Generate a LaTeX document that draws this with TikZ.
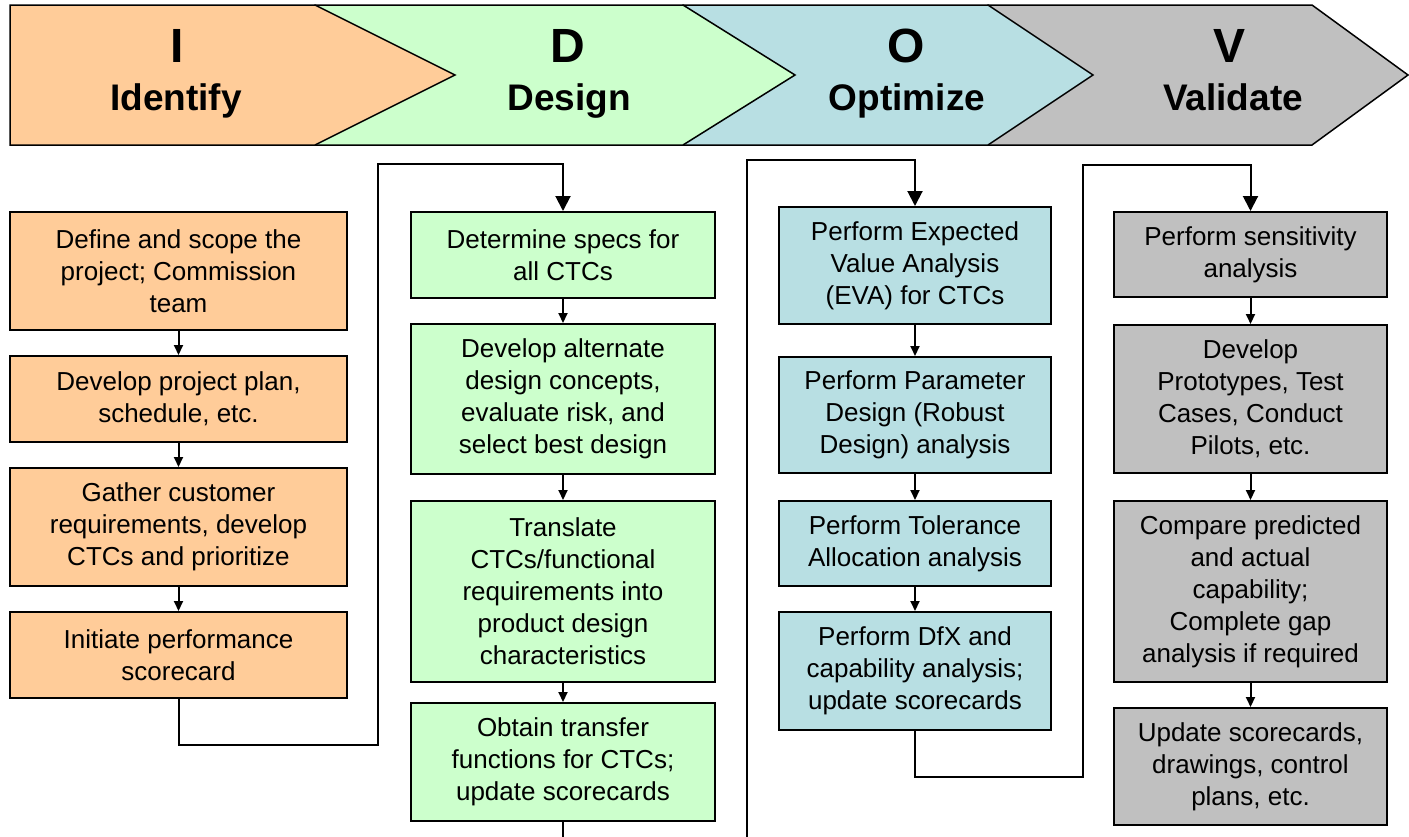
\documentclass[tikz,border=0pt]{standalone}
\usepackage{fontspec}
\setmainfont{Liberation Sans}
\usetikzlibrary{arrows.meta}
\definecolor{cI}{HTML}{FFCC99}
\definecolor{cD}{HTML}{CCFFCC}
\definecolor{cO}{HTML}{B8DFE3}
\definecolor{cV}{HTML}{C0C0C0}
\begin{document}
\begin{tikzpicture}[x=1pt,y=-1pt,
  box/.style={draw=black, line width=2pt, align=center, inner sep=0pt, font=\fontsize{26}{32}\selectfont},
  colI/.style={box, fill=cI, minimum width=337pt},
  colD/.style={box, fill=cD, minimum width=304pt},
  colO/.style={box, fill=cO, minimum width=272pt},
  colV/.style={box, fill=cV, minimum width=273pt},
  chev/.style={draw=black, line width=1.5pt, line join=miter},
  letter/.style={anchor=base, font=\fontsize{48}{48}\selectfont\bfseries, inner sep=0pt},
  phase/.style={anchor=base, font=\fontsize{37}{37}\selectfont\bfseries, inner sep=0pt},
  link/.style={line width=2pt, -{Triangle[width=9pt,length=10pt]}},
  feed/.style={line width=2pt, -{Triangle[width=15pt,length=15pt]}}]
\useasboundingbox (0,0) rectangle (1409,836);
\clip (0,0) rectangle (1409,836);
\fill[white] (0,0) rectangle (1409,836);

% header chevrons
\path[chev, fill=cV] (988,5) -- (1312,5) -- (1408,75) -- (1312,145) -- (988,145) -- cycle;
\path[chev, fill=cO] (683,5) -- (988,5) -- (1093,75) -- (988,145) -- (683,145) -- cycle;
\path[chev, fill=cD] (315,5) -- (683,5) -- (795,75) -- (683,145) -- (315,145) -- cycle;
\path[chev, fill=cI] (10,5) -- (315,5) -- (455,75) -- (315,145) -- (10,145) -- cycle;

\node[letter] (hI) at (177,62) {I};
\node[phase] (nI) at (176,110) {Identify};
\node[letter] (hD) at (568,62) {D};
\node[phase] (nD) at (569,110) {Design};
\node[letter] (hO) at (906,62) {O};
\node[phase] (nO) at (907,110) {Optimize};
\node[letter] (hV) at (1229,62) {V};
\node[phase] (nV) at (1233,110) {Validate};

% Identify column
\node[colI, minimum height=118pt] (i1) at (178.5,271) {Define and scope the\\project; Commission\\team};
\node[colI, minimum height=86pt] (i2) at (178.5,399) {Develop project plan,\\schedule, etc.};
\node[colI, minimum height=118pt] (i3) at (178.5,527) {Gather customer\\requirements, develop\\CTCs and prioritize};
\node[colI, minimum height=86pt] (i4) at (178.5,655) {Initiate performance\\scorecard};

% Design column
\node[colD, minimum height=86pt] (d1) at (563,255) {Determine specs for\\all CTCs};
\node[colD, minimum height=150pt] (d2) at (563,399) {Develop alternate\\design concepts,\\evaluate risk, and\\select best design};
\node[colD, minimum height=181pt] (d3) at (563,591.5) {Translate\\CTCs/functional\\requirements into\\product design\\characteristics};
\node[colD, minimum height=118pt] (d4) at (563,762) {Obtain transfer\\functions for CTCs;\\update scorecards};

% Optimize column
\node[colO, minimum height=117pt] (o1) at (915,265.5) {Perform Expected\\Value Analysis\\(EVA) for CTCs};
\node[colO, minimum height=116pt] (o2) at (915,415) {Perform Parameter\\Design (Robust\\Design) analysis};
\node[colO, minimum height=85pt] (o3) at (915,543.5) {Perform Tolerance\\Allocation analysis};
\node[colO, minimum height=118pt] (o4) at (915,671) {Perform DfX and\\capability analysis;\\update scorecards};

% Validate column
\node[colV, minimum height=85pt] (v1) at (1250.5,254.5) {Perform sensitivity\\analysis};
\node[colV, minimum height=148pt] (v2) at (1250.5,399) {Develop\\Prototypes, Test\\Cases, Conduct\\Pilots, etc.};
\node[colV, minimum height=181pt] (v3) at (1250.5,591.5) {Compare predicted\\and actual\\capability;\\Complete gap\\analysis if required};
\node[colV, minimum height=117pt] (v4) at (1250.5,766.5) {Update scorecards,\\drawings, control\\plans, etc.};

% links within columns
\draw[link] (i1) -- (i2);
\draw[link] (i2) -- (i3);
\draw[link] (i3) -- (i4);
\draw[link] (d1) -- (d2);
\draw[link] (d2) -- (d3);
\draw[link] (d3) -- (d4);
\draw[link] (o1) -- (o2);
\draw[link] (o2) -- (o3);
\draw[link] (o3) -- (o4);
\draw[link] (v1) -- (v2);
\draw[link] (v2) -- (v3);
\draw[link] (v3) -- (v4);

% links between phases
\coordinate (a1) at (378,745);
\coordinate (a2) at (378,164);
\draw[feed] (i4.south) |- (a1) -- (a2) -| (d1.north);
\coordinate (b1) at (747,860);
\coordinate (b2) at (747,160);
\draw[feed] (d4.south) |- (b1) -- (b2) -| (o1.north);
\coordinate (c1) at (1083,777);
\coordinate (c2) at (1083,165);
\draw[feed] (o4.south) |- (c1) -- (c2) -| (v1.north);
\end{tikzpicture}
\end{document}
